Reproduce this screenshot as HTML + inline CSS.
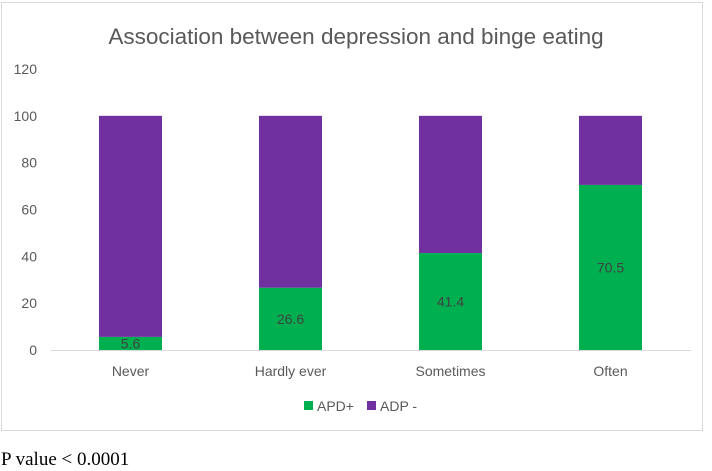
<!DOCTYPE html>
<html><head><meta charset="utf-8"><style>
body{margin:0;background:#fff;width:712px;height:470px;overflow:hidden;font-family:"Liberation Sans",sans-serif}
#chart{position:absolute;left:0;top:0}
#pval{position:absolute;left:1px;top:449px;font-family:"Liberation Serif",serif;font-size:19px;color:#000}
</style></head><body>
<svg id="chart" width="712" height="440"></svg>
<div id="pval">P value &lt; 0.0001</div>
<script>
const categories=["Never","Hardly ever","Sometimes","Often"];
const apdPlus=[5.6,26.6,41.4,70.5];
const adpMinus=[94.4,73.4,58.6,29.5];
const yTicks=[0,20,40,60,80,100,120];
const svg=document.getElementById('chart');
const NS='http://www.w3.org/2000/svg';
function el(t,a,txt){const e=document.createElementNS(NS,t);for(const k in a)e.setAttribute(k,a[k]);if(txt!=null)e.textContent=txt;svg.appendChild(e);return e;}
const y0=350,yTop=69,vmax=120;
const y=v=>y0-(v/vmax)*(y0-yTop);
const x0=51,band=160,bw=63;
const xc=i=>x0+band*i+band/2-0.5;
let e=el('rect',{x:1.5,y:2.5,width:701,height:428,fill:'#fff',stroke:'#d9d9d9'});

e=el('text',{x:356,y:44,'text-anchor':'middle','font-size':22.5,fill:'#595959'},'Association between depression and binge eating');

yTicks.forEach(t=>{const l=el('text',{x:37,y:y(t)+5,'text-anchor':'end','font-size':14,fill:'#595959'},t);
});
e=el('line',{x1:x0,x2:x0+band*4,y1:y0+0.5,y2:y0+0.5,stroke:'#d9d9d9'});

categories.forEach((c,i)=>{
 const bx=xc(i)-bw/2;
 const g=el('rect',{x:bx,y:y(apdPlus[i]),width:bw,height:y0-y(apdPlus[i]),fill:'#00b050'});
 
 const p=el('rect',{x:bx,y:y(apdPlus[i]+adpMinus[i]),width:bw,height:y(apdPlus[i])-y(apdPlus[i]+adpMinus[i]),fill:'#7030a0'});
 
 const ly=(y(apdPlus[i])+y0)/2+5;
 const v=el('text',{x:xc(i),y:ly,'text-anchor':'middle','font-size':14,fill:'#404040'},apdPlus[i]);
 
 const t=el('text',{x:xc(i),y:376,'text-anchor':'middle','font-size':14,fill:'#595959'},c);
 
});
e=el('rect',{x:304,y:401,width:9,height:9,fill:'#00b050'});
e=el('text',{x:317,y:411,'font-size':14,fill:'#595959'},'APD+');
e=el('rect',{x:367,y:401,width:9,height:9,fill:'#7030a0'});
e=el('text',{x:380,y:411,'font-size':14,fill:'#595959'},'ADP -');
</script>
</body></html>
